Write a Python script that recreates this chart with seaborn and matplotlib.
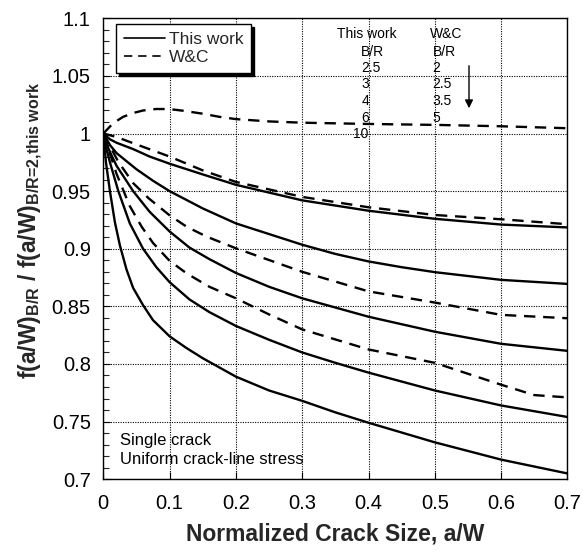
import matplotlib
matplotlib.use("Agg")
import matplotlib.pyplot as plt
import seaborn as sns
import pandas as pd
from matplotlib.lines import Line2D
from matplotlib.ticker import MultipleLocator

# ---- data ----
# This work (solid), B/R = 2.5, 3, 4, 6, 10
tw25_x = [0, 0.01, 0.02, 0.045, 0.07, 0.1, 0.15, 0.2, 0.3, 0.4, 0.5, 0.6, 0.7]
tw25_y = [1, 0.995, 0.992, 0.9865, 0.980, 0.9738, 0.9645, 0.9555, 0.942, 0.933, 0.926, 0.921, 0.9185]
tw3_x = [0, 0.01, 0.02, 0.05, 0.075, 0.1, 0.15, 0.2, 0.3, 0.35, 0.4, 0.45, 0.5, 0.6, 0.7]
tw3_y = [1, 0.99, 0.983, 0.969, 0.959, 0.95, 0.935, 0.922, 0.9035, 0.8955, 0.889, 0.884, 0.8797, 0.873, 0.8695]
tw4_x = [0, 0.005, 0.01, 0.02, 0.045, 0.07, 0.1, 0.13, 0.16, 0.2, 0.25, 0.3, 0.4, 0.5, 0.6, 0.7]
tw4_y = [1, 0.991, 0.984, 0.972, 0.95, 0.932, 0.915, 0.901, 0.891, 0.879, 0.867, 0.857, 0.841, 0.828, 0.8175, 0.8114]
tw6_x = [0, 0.005, 0.01, 0.0227, 0.04, 0.06, 0.08, 0.1, 0.13, 0.16, 0.2, 0.25, 0.3, 0.35, 0.4, 0.5, 0.6, 0.7]
tw6_y = [1, 0.986, 0.975, 0.95, 0.922, 0.90, 0.884, 0.871, 0.856, 0.845, 0.833, 0.821, 0.810, 0.801, 0.7925, 0.777, 0.764, 0.754]
tw10_x = [0, 0.004, 0.01, 0.0175, 0.025, 0.035, 0.045, 0.06, 0.075, 0.1, 0.125, 0.15, 0.2, 0.25,
          0.3, 0.35, 0.4, 0.5, 0.6, 0.7]
tw10_y = [1, 0.975, 0.95, 0.923, 0.903, 0.882, 0.866, 0.851, 0.838, 0.824, 0.814, 0.805, 0.789, 0.777,
          0.768, 0.758, 0.749, 0.732, 0.717, 0.705]

# W&C (dashed), B/R = 2, 2.5, 3.5, 5
wc2_x = [0, 0.005, 0.015, 0.03, 0.045, 0.06, 0.08, 0.1, 0.12, 0.15, 0.175, 0.2, 0.25, 0.3, 0.4, 0.5, 0.6, 0.7]
wc2_y = [1, 1.003, 1.009, 1.0145, 1.0178, 1.020, 1.0213, 1.0212, 1.0198, 1.0172, 1.0145, 1.0125, 1.0105,
         1.0094, 1.0083, 1.0075, 1.0063, 1.0046]
wc25_x = [0, 0.02, 0.045, 0.1, 0.15, 0.2, 0.3, 0.4, 0.5, 0.6, 0.7]
wc25_y = [1, 0.997, 0.9916, 0.98, 0.968, 0.958, 0.945, 0.936, 0.9293, 0.9256, 0.9213]
wc35_x = [0, 0.0225, 0.045, 0.068, 0.1, 0.126, 0.156, 0.2, 0.3, 0.4, 0.5, 0.6, 0.7]
wc35_y = [1, 0.9756, 0.957, 0.944, 0.929, 0.919, 0.9105, 0.9004, 0.880, 0.863, 0.8533, 0.8426, 0.8397]
wc5_x = [0, 0.02, 0.04, 0.058, 0.075, 0.1, 0.126, 0.16, 0.2, 0.25, 0.3, 0.4, 0.5, 0.6, 0.65, 0.7]
wc5_y = [1, 0.965, 0.937, 0.919, 0.905, 0.8895, 0.8785, 0.867, 0.857, 0.843, 0.830, 0.8126, 0.801, 0.782,
         0.773, 0.771]

this_work_br = ["2.5", "3", "4", "6", "10"]
wc_br = ["2", "2.5", "3.5", "5"]
x_ticks = [0, 0.1, 0.2, 0.3, 0.4, 0.5, 0.6, 0.7]
y_ticks = [0.7, 0.75, 0.8, 0.85, 0.9, 0.95, 1, 1.05, 1.1]

# ---- style ----
sns.set_theme(style="ticks")
plt.rcParams["font.family"] = ["Liberation Sans", "DejaVu Sans"]
plt.rcParams["mathtext.fontset"] = "custom"
plt.rcParams["mathtext.rm"] = "Liberation Sans:bold"
plt.rcParams["mathtext.bf"] = "Liberation Sans:bold"
plt.rcParams["mathtext.it"] = "Liberation Sans:bold"

W, H = 583, 560
fig = plt.figure(figsize=(W / 100, H / 100), dpi=100)
ax = fig.add_axes([103.3 / W, 1 - 479.2 / H, (567.4 - 103.3) / W, (479.2 - 18.3) / H])

lw = 1.7
solid = [(tw25_x, tw25_y), (tw3_x, tw3_y), (tw4_x, tw4_y), (tw6_x, tw6_y), (tw10_x, tw10_y)]
dashed = [(wc2_x, wc2_y), (wc25_x, wc25_y), (wc35_x, wc35_y), (wc5_x, wc5_y)]
for xs, ys in solid:
    sns.lineplot(x=xs, y=ys, ax=ax, color="black", lw=lw, sort=False, estimator=None)
for xs, ys in dashed:
    l = sns.lineplot(x=xs, y=ys, ax=ax, color="black", lw=lw, sort=False, estimator=None)
    l.lines[-1].set_dashes((4.8, 3.3))

ax.set_xlim(0, 0.7)
ax.set_ylim(0.7, 1.1)
ax.set_xticks(x_ticks)
ax.set_xticklabels([f"{v:g}" for v in x_ticks])
ax.set_yticks(y_ticks)
ax.set_yticklabels([f"{v:g}" for v in y_ticks])
ax.yaxis.set_minor_locator(MultipleLocator(0.01))
ax.tick_params(axis="both", which="major", direction="in", length=5, width=0.8,
               labelsize=14.5, colors="black")
ax.tick_params(axis="x", which="major", pad=11)
ax.tick_params(axis="y", which="major", pad=9)
ax.tick_params(axis="y", which="minor", direction="in", length=4, width=0.8)
ax.grid(True, which="major", color="black", linestyle=(0, (1, 1.2)), lw=0.8)
for s in ax.spines.values():
    s.set_color("black")
    s.set_linewidth(1.0)
    s.set_visible(True)

ax.set_xlabel("Normalized Crack Size, a/W", fontsize=16.5, fontweight="bold")
ax.xaxis.set_label_coords(0.5, -0.093)
ax.set_ylabel(r"$\text{f(a/W)}_{\text{B/R}}\text{ / f(a/W)}_{\text{B/R=2,this work}}$",
              fontsize=16.5)
ax.yaxis.set_label_coords(-0.125, 0.54)

handles = [Line2D([], [], color="black", lw=1.2),
           Line2D([], [], color="black", lw=1.2, dashes=(5, 3.5))]
leg = ax.legend(handles, ["This work", "W&C"], loc="upper left",
                bbox_to_anchor=(0.027, 0.988), borderaxespad=0, fontsize=12.5,
                frameon=True, fancybox=False, handlelength=2.4, handletextpad=0.2,
                borderpad=0.45, labelspacing=0.18,
                shadow={"color": "black", "alpha": 1})
leg.get_frame().set_edgecolor("black")
leg.get_frame().set_linewidth(1.0)
leg.get_frame().set_alpha(1)

def ft(x, y, s, size=10):
    fig.text(x / W, 1 - y / H, s, va="center", fontsize=size, color="black")

ft(336.7, 34.5, "This work")
ft(361, 51.5, "B/R")
ys = [68, 84.5, 101, 117.5, 134]
xs_tw = [361, 361.7, 361.7, 361.7, 353.3]
for xv, yv, s in zip(xs_tw, ys, this_work_br):
    ft(xv, yv, s)
ft(430, 34.5, "W&C")
ft(432.7, 51.5, "B/R")
for yv, s in zip(ys, wc_br):
    ft(432.7, yv, s)
ax.annotate("", xy=(469 / W, 1 - 111 / H), xytext=(469 / W, 1 - 63 / H),
            xycoords="figure fraction", textcoords="figure fraction",
            arrowprops=dict(arrowstyle="-|>", color="black", lw=1.0,
                            mutation_scale=12))

ft(120, 441, "Single crack", size=12)
ft(120, 460, "Uniform crack-line stress", size=12)

fig.savefig("out.png", dpi=100)
